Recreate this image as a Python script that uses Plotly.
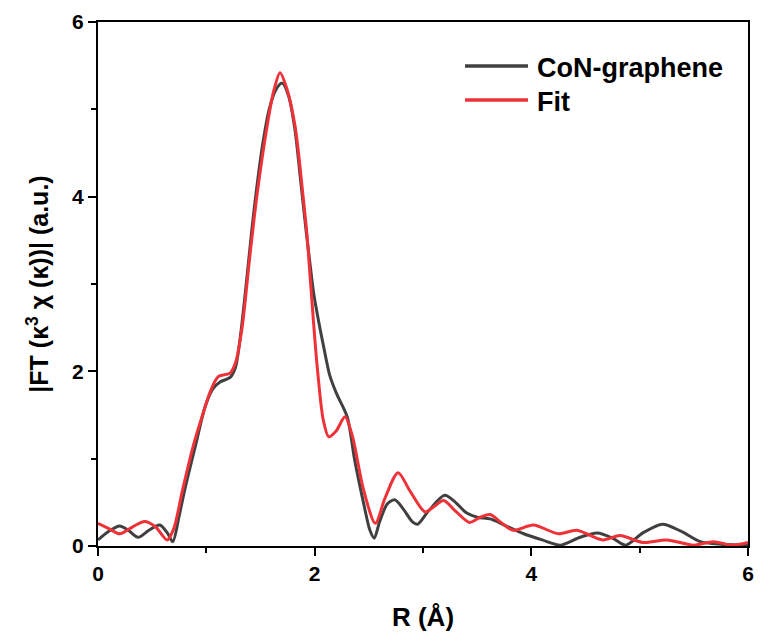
import plotly.graph_objects as go

# Radial distance R (Å) and |FT| magnitude for the measured spectrum
r_exp = [0.00, 0.10, 0.20, 0.28, 0.37, 0.47, 0.57, 0.64, 0.69, 0.75, 0.80, 0.90,
         0.99, 1.06, 1.13, 1.22, 1.27, 1.31, 1.36, 1.42, 1.46, 1.52, 1.58, 1.64,
         1.70, 1.76, 1.82, 1.87, 1.92, 1.96, 1.99, 2.04, 2.08, 2.14, 2.20, 2.30,
         2.37, 2.45, 2.51, 2.55, 2.60, 2.67, 2.74, 2.82, 2.90, 2.95, 3.05, 3.20,
         3.30, 3.40, 3.50, 3.62, 3.75, 3.93, 4.10, 4.27, 4.45, 4.61, 4.75, 4.87,
         5.03, 5.21, 5.38, 5.56, 5.75, 6.00]
ft_exp = [0.07, 0.17, 0.23, 0.18, 0.10, 0.18, 0.24, 0.15, 0.05, 0.35, 0.64, 1.15,
          1.60, 1.80, 1.88, 1.93, 2.05, 2.36, 2.90, 3.62, 4.05, 4.60, 5.00, 5.22,
          5.30, 5.15, 4.75, 4.19, 3.62, 3.20, 2.90, 2.55, 2.30, 1.95, 1.75, 1.48,
          0.98, 0.50, 0.18, 0.09, 0.28, 0.48, 0.53, 0.42, 0.28, 0.25, 0.40, 0.58,
          0.50, 0.38, 0.33, 0.31, 0.24, 0.14, 0.07, 0.01, 0.10, 0.15, 0.09, 0.01,
          0.15, 0.25, 0.17, 0.05, 0.02, 0.01]

# Fitted model
r_fit = [0.00, 0.10, 0.20, 0.32, 0.43, 0.53, 0.64, 0.70, 0.78, 0.88, 0.96, 1.04,
         1.11, 1.22, 1.27, 1.33, 1.40, 1.47, 1.56, 1.62, 1.68, 1.74, 1.82, 1.89,
         1.93, 1.96, 2.02, 2.08, 2.13, 2.20, 2.28, 2.35, 2.45, 2.56, 2.65, 2.77,
         2.88, 3.02, 3.10, 3.19, 3.30, 3.43, 3.53, 3.62, 3.72, 3.83, 4.02, 4.25,
         4.42, 4.66, 4.82, 5.03, 5.25, 5.50, 5.68, 5.85, 6.00]
ft_fit = [0.26, 0.20, 0.14, 0.22, 0.28, 0.22, 0.07, 0.20, 0.64, 1.15, 1.48, 1.78,
          1.94, 1.98, 2.10, 2.50, 3.30, 4.04, 4.80, 5.20, 5.42, 5.25, 4.80, 4.04,
          3.55, 3.05, 2.10, 1.44, 1.25, 1.32, 1.48, 1.25, 0.65, 0.26, 0.55, 0.84,
          0.63, 0.39, 0.45, 0.52, 0.40, 0.27, 0.33, 0.36, 0.27, 0.18, 0.24, 0.14,
          0.18, 0.07, 0.12, 0.04, 0.07, 0.01, 0.05, 0.01, 0.04]

series_names = ["CoN-graphene", "Fit"]
series_colors = ["#404040", "#ee3237"]

x_ticks = [0, 2, 4, 6]
y_ticks = [0, 2, 4, 6]

FONT = "Liberation Sans, Arial, sans-serif"

fig = go.Figure()
for (xs, ys), name, color in zip([(r_exp, ft_exp), (r_fit, ft_fit)], series_names, series_colors):
    fig.add_trace(go.Scatter(
        x=xs, y=ys, mode="lines", name=name, showlegend=False,
        line=dict(color=color, width=3, shape="spline", smoothing=0.8),
    ))

axis_common = dict(
    showgrid=False, zeroline=False,
    showline=True, linecolor="black", linewidth=2, mirror=True,
    ticks="outside", ticklen=8, tickwidth=2, tickcolor="black",
    tickfont=dict(family=FONT, size=21, color="black", weight="bold"),
    minor=dict(ticks="outside", ticklen=5, tickwidth=1.5, tickcolor="black", dtick=1),
)

fig.update_xaxes(
    range=[0, 6], tickvals=x_ticks, ticktext=[str(v) for v in x_ticks],
    title=dict(text="R (Å)", font=dict(family=FONT, size=26, color="black", weight="bold"),
               standoff=24),
    **axis_common,
)
fig.update_yaxes(
    range=[0, 6], tickvals=y_ticks, ticktext=[str(v) for v in y_ticks],
    title=dict(text="|FT (κ<sup>3</sup> χ (κ))| (a.u.)",
               font=dict(family=FONT, size=25, color="black", weight="bold"),
               standoff=16),
    **axis_common,
)

# Legend drawn in paper coordinates: a line sample followed by its label
legend_y = [0.916, 0.851]
for name, color, ly in zip(series_names, series_colors, legend_y):
    fig.add_shape(type="line", xref="paper", yref="paper",
                  x0=0.5646, x1=0.6615, y0=ly, y1=ly,
                  line=dict(color=color, width=3.5))
    fig.add_annotation(xref="paper", yref="paper", x=0.672, y=ly - 0.004,
                       text=name, showarrow=False, xanchor="left", yanchor="middle",
                       font=dict(family=FONT, size=27, color="black", weight="bold"))

fig.update_layout(
    width=760, height=639,
    margin=dict(l=98, r=6, t=22, b=93),
    paper_bgcolor="white", plot_bgcolor="white",
    showlegend=False,
)

fig.write_html("out.html")
